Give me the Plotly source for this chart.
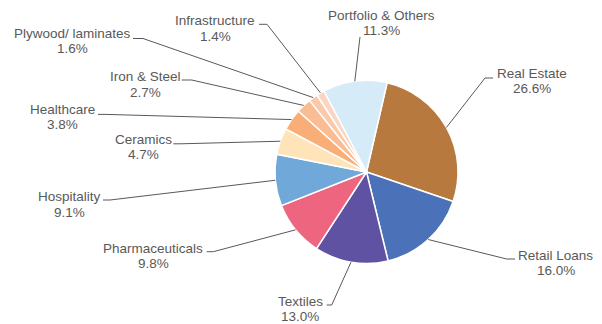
import math
import plotly.graph_objects as go

# Sector exposure (% of total)
sectors = ["Real Estate", "Retail Loans", "Textiles", "Pharmaceuticals", "Hospitality",
           "Ceramics", "Healthcare", "Iron & Steel", "Plywood/ laminates",
           "Infrastructure", "Portfolio & Others"]
shares = [26.6, 16.0, 13.0, 9.8, 9.1, 4.7, 3.8, 2.7, 1.6, 1.4, 11.3]
colors = ["#B8793F", "#4B72B8", "#6052A2", "#EE6580", "#6FA8D9", "#FEE4B8",
          "#F9AE77", "#FABD93", "#FBC9AA", "#FCD5C2", "#D5EBF8"]

W, H = 602, 324
CX, CY, R = 366.5, 172.0, 91.5      # pie centre / radius in pixels
ROTATION = 13                        # first slice starts 13 deg clockwise of 12 o'clock

# label placement: text centre x, first-line y, elbow point, line end beside the text
label_pos = {
    "Real Estate":        (531.7, 73.0, (485.0, 78.0), (493.0, 78.0)),
    "Retail Loans":       (555.5, 255.0, (506.7, 259.0), (515.0, 259.0)),
    "Textiles":           (300.0, 301.0, (331.7, 305.0), (326.7, 305.0)),
    "Pharmaceuticals":    (153.3, 248.3, (213.3, 251.7), (206.7, 251.7)),
    "Hospitality":        (69.2, 196.7, (110.0, 200.0), (103.0, 200.0)),
    "Ceramics":           (143.3, 139.3, (181.0, 143.8), (173.3, 143.8)),
    "Healthcare":         (62.5, 109.3, (106.0, 114.4), (98.0, 114.4)),
    "Iron & Steel":       (145.0, 76.7, (191.7, 80.0), (181.7, 80.0)),
    "Plywood/ laminates": (72.5, 33.3, (143.0, 38.5), (133.0, 38.5)),
    "Infrastructure":     (215.0, 20.7, (267.0, 24.3), (259.0, 24.3)),
    "Portfolio & Others": (381.7, 15.0, None, (360.0, 37.0)),
}
LINE_GAP = 15.5
FONT = dict(family="Liberation Sans, Arial, sans-serif", size=13.5, color="#595959")

fig = go.Figure()
fig.add_trace(go.Pie(
    labels=sectors, values=shares, sort=False, direction="clockwise",
    rotation=ROTATION, marker=dict(colors=colors, line=dict(color="white", width=1.5)),
    textinfo="none", hoverinfo="label+percent", showlegend=False,
    domain=dict(x=[(CX - R) / W, (CX + R) / W], y=[(H - CY - R) / H, (H - CY + R) / H]),
))

total = sum(shares)
start = ROTATION
shapes, annotations = [], []
for name, val in zip(sectors, shares):
    span = 360.0 * val / total
    mid = math.radians(start + span / 2)
    start += span
    ex, ey = CX + R * math.sin(mid), CY - R * math.cos(mid)
    tx, ty, elbow, end = label_pos[name]
    pts = [(ex, ey)] + ([elbow] if elbow else []) + [end]
    path = "M " + " L ".join(f"{x:.2f},{y:.2f}" for x, y in pts)
    shapes.append(dict(type="path", path=path, xref="x", yref="y",
                       line=dict(color="#595959", width=1)))
    annotations.append(dict(x=tx, y=ty, xref="x", yref="y", text=name, showarrow=False,
                            xanchor="center", yanchor="middle", font=FONT))
    annotations.append(dict(x=tx, y=ty + LINE_GAP, xref="x", yref="y", text=f"{val:.1f}%",
                            showarrow=False, xanchor="center", yanchor="middle", font=FONT))

fig.update_layout(
    width=W, height=H, margin=dict(l=0, r=0, t=0, b=0),
    paper_bgcolor="white", plot_bgcolor="rgba(0,0,0,0)",
    xaxis=dict(range=[0, W], visible=False, fixedrange=True, domain=[0, 1]),
    yaxis=dict(range=[H, 0], visible=False, fixedrange=True, domain=[0, 1]),
    shapes=shapes, annotations=annotations,
)
fig.write_html("out.html")
